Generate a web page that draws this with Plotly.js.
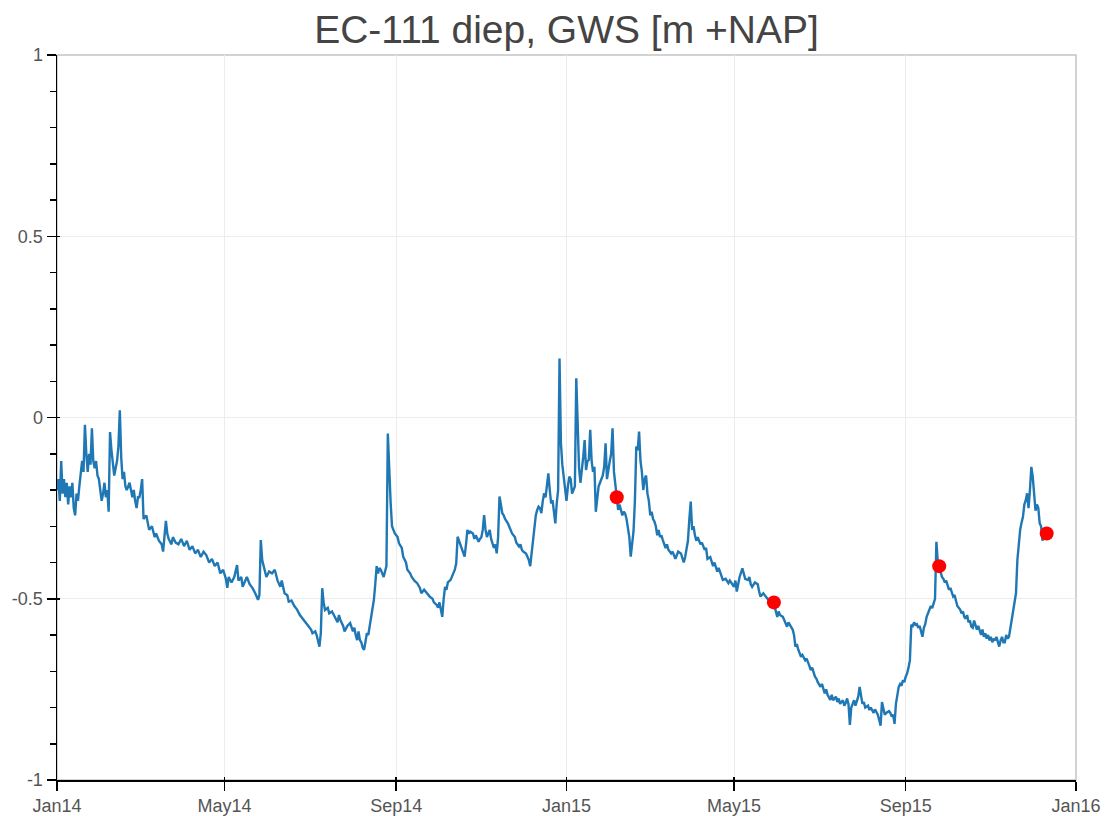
<!DOCTYPE html>
<html>
<head>
<meta charset="utf-8">
<script src="https://cdn.plot.ly/plotly-3.0.1.min.js"></script>
<style>
  html, body { margin: 0; padding: 0; background: #ffffff; }
  #chart { width: 1112px; height: 816px; }
</style>
</head>
<body>
<div id="chart"></div>
<script>
// Title and tick labels
const chartTitle = "EC-111 diep, GWS [m +NAP]";
const xTickVals = ["2014-01-01","2014-05-01","2014-09-01","2015-01-01","2015-05-01","2015-09-01","2016-01-01"];
const xTickText = ["Jan14","May14","Sep14","Jan15","May15","Sep15","Jan16"];
const yTickVals = [-1, -0.5, 0, 0.5, 1];
const yTickText = ["-1","-0.5","0","0.5","1"];

// Groundwater level series (m +NAP)
const dates = [
"2014-01-01","2014-01-02","2014-01-03","2014-01-04","2014-01-05","2014-01-06","2014-01-07","2014-01-08","2014-01-09","2014-01-10","2014-01-11","2014-01-12","2014-01-13","2014-01-14","2014-01-15","2014-01-16","2014-01-17","2014-01-18","2014-01-19","2014-01-20","2014-01-21","2014-01-22","2014-01-23","2014-01-24","2014-01-25","2014-01-26","2014-01-27","2014-01-28","2014-01-29","2014-01-30","2014-01-31",
"2014-02-01","2014-02-02","2014-02-03","2014-02-04","2014-02-05","2014-02-06","2014-02-07","2014-02-08","2014-02-09","2014-02-10","2014-02-11","2014-02-12","2014-02-13","2014-02-14","2014-02-15","2014-02-16","2014-02-17","2014-02-18","2014-02-19","2014-02-20","2014-02-22","2014-02-24","2014-02-25","2014-02-26","2014-02-27","2014-02-28",
"2014-03-01","2014-03-02","2014-03-03","2014-03-04","2014-03-06","2014-03-08","2014-03-10","2014-03-12","2014-03-13","2014-03-15","2014-03-17","2014-03-18","2014-03-19","2014-03-20","2014-03-21","2014-03-22","2014-03-24","2014-03-25","2014-03-27","2014-03-29","2014-03-31",
"2014-04-02","2014-04-04","2014-04-06","2014-04-08","2014-04-10","2014-04-12","2014-04-14","2014-04-16","2014-04-18","2014-04-20","2014-04-22","2014-04-24","2014-04-26","2014-04-28","2014-04-30",
"2014-05-02","2014-05-03","2014-05-04","2014-05-06","2014-05-08","2014-05-10","2014-05-11","2014-05-13","2014-05-14","2014-05-16","2014-05-17","2014-05-19","2014-05-21","2014-05-23","2014-05-25","2014-05-26","2014-05-27","2014-05-28","2014-05-29","2014-05-31",
"2014-06-02","2014-06-04","2014-06-06","2014-06-08","2014-06-10","2014-06-11","2014-06-13","2014-06-15","2014-06-16","2014-06-18","2014-06-20","2014-06-22","2014-06-24","2014-06-25","2014-06-27","2014-06-29","2014-06-30",
"2014-07-02","2014-07-03","2014-07-05","2014-07-06","2014-07-07","2014-07-08","2014-07-09","2014-07-10","2014-07-11","2014-07-12","2014-07-14","2014-07-15","2014-07-17","2014-07-19","2014-07-21","2014-07-22","2014-07-23","2014-07-25","2014-07-26","2014-07-28","2014-07-30",
"2014-08-01","2014-08-02","2014-08-03","2014-08-04","2014-08-05","2014-08-06","2014-08-07","2014-08-08","2014-08-09","2014-08-10","2014-08-11","2014-08-12","2014-08-13","2014-08-14","2014-08-15","2014-08-16","2014-08-17","2014-08-18","2014-08-19","2014-08-20","2014-08-21","2014-08-22","2014-08-23","2014-08-24","2014-08-25","2014-08-26","2014-08-27","2014-08-28","2014-08-29","2014-08-30","2014-08-31",
"2014-09-02","2014-09-03","2014-09-05","2014-09-06","2014-09-08","2014-09-09","2014-09-11","2014-09-12","2014-09-14","2014-09-16","2014-09-18","2014-09-19","2014-09-21","2014-09-22","2014-09-24","2014-09-25","2014-09-27","2014-09-28","2014-09-30",
"2014-10-01","2014-10-02","2014-10-03","2014-10-04","2014-10-05","2014-10-06","2014-10-07","2014-10-08","2014-10-10","2014-10-11","2014-10-12","2014-10-13","2014-10-14","2014-10-15","2014-10-16","2014-10-17","2014-10-18","2014-10-19","2014-10-20","2014-10-21","2014-10-22","2014-10-23","2014-10-24","2014-10-26","2014-10-27","2014-10-28","2014-10-30","2014-10-31",
"2014-11-01","2014-11-02","2014-11-03","2014-11-04","2014-11-05","2014-11-06","2014-11-07","2014-11-08","2014-11-09","2014-11-10","2014-11-11","2014-11-12","2014-11-13","2014-11-14","2014-11-15","2014-11-16","2014-11-17","2014-11-18","2014-11-20","2014-11-21","2014-11-22","2014-11-23","2014-11-25","2014-11-26","2014-11-28","2014-11-29","2014-11-30",
"2014-12-01","2014-12-03","2014-12-04","2014-12-05","2014-12-06","2014-12-07","2014-12-08","2014-12-09","2014-12-10","2014-12-11","2014-12-12","2014-12-13","2014-12-14","2014-12-15","2014-12-16","2014-12-17","2014-12-18","2014-12-19","2014-12-20","2014-12-21","2014-12-22","2014-12-23","2014-12-24","2014-12-25","2014-12-26","2014-12-27","2014-12-28","2014-12-29","2014-12-30","2014-12-31",
"2015-01-01","2015-01-02","2015-01-03","2015-01-04","2015-01-05","2015-01-06","2015-01-07","2015-01-08","2015-01-09","2015-01-10","2015-01-11","2015-01-12","2015-01-13","2015-01-14","2015-01-15","2015-01-16","2015-01-17","2015-01-18","2015-01-19","2015-01-20","2015-01-21","2015-01-22","2015-01-23","2015-01-24","2015-01-25","2015-01-26","2015-01-27","2015-01-28","2015-01-29","2015-01-30","2015-01-31",
"2015-02-01","2015-02-02","2015-02-03","2015-02-04","2015-02-05","2015-02-06","2015-02-07","2015-02-08","2015-02-09","2015-02-10","2015-02-11","2015-02-12","2015-02-13","2015-02-14","2015-02-15","2015-02-16","2015-02-17","2015-02-18","2015-02-19","2015-02-20","2015-02-21","2015-02-22","2015-02-23","2015-02-24","2015-02-25","2015-02-26","2015-02-27","2015-02-28",
"2015-03-01","2015-03-02","2015-03-03","2015-03-04","2015-03-05","2015-03-06","2015-03-07","2015-03-08","2015-03-09","2015-03-10","2015-03-11","2015-03-12","2015-03-13","2015-03-14","2015-03-15","2015-03-17","2015-03-18","2015-03-19","2015-03-20","2015-03-21","2015-03-22","2015-03-24","2015-03-25","2015-03-26","2015-03-27","2015-03-28","2015-03-29","2015-03-30","2015-03-31",
"2015-04-01","2015-04-02","2015-04-03","2015-04-04","2015-04-05","2015-04-07","2015-04-08","2015-04-10","2015-04-11","2015-04-12","2015-04-14","2015-04-16","2015-04-17","2015-04-19","2015-04-20","2015-04-22","2015-04-23","2015-04-25","2015-04-27","2015-04-28","2015-04-30",
"2015-05-01","2015-05-02","2015-05-03","2015-05-04","2015-05-05","2015-05-07","2015-05-08","2015-05-09","2015-05-11","2015-05-12","2015-05-13","2015-05-14","2015-05-16","2015-05-18","2015-05-19","2015-05-20","2015-05-22","2015-05-24","2015-05-25","2015-05-27","2015-05-29","2015-05-30","2015-05-31",
"2015-06-01","2015-06-02","2015-06-03","2015-06-05","2015-06-06","2015-06-08","2015-06-09","2015-06-11","2015-06-12","2015-06-13","2015-06-14","2015-06-15","2015-06-16","2015-06-18","2015-06-19","2015-06-21","2015-06-22","2015-06-24","2015-06-25","2015-06-26","2015-06-28","2015-06-29","2015-06-30",
"2015-07-02","2015-07-03","2015-07-05","2015-07-06","2015-07-07","2015-07-09","2015-07-10","2015-07-11","2015-07-13","2015-07-14","2015-07-15","2015-07-16","2015-07-18","2015-07-19","2015-07-20","2015-07-21","2015-07-22","2015-07-23","2015-07-24","2015-07-26","2015-07-27","2015-07-28","2015-07-29","2015-07-30","2015-07-31",
"2015-08-01","2015-08-02","2015-08-03","2015-08-05","2015-08-06","2015-08-07","2015-08-09","2015-08-10","2015-08-12","2015-08-13","2015-08-14","2015-08-15","2015-08-16","2015-08-17","2015-08-18","2015-08-20","2015-08-21","2015-08-22","2015-08-23","2015-08-24","2015-08-25","2015-08-26","2015-08-27","2015-08-28","2015-08-29","2015-08-30","2015-08-31",
"2015-09-01","2015-09-02","2015-09-03","2015-09-04","2015-09-05","2015-09-06","2015-09-07","2015-09-08","2015-09-09","2015-09-10","2015-09-11","2015-09-12","2015-09-13","2015-09-14","2015-09-15","2015-09-16","2015-09-17","2015-09-18","2015-09-19","2015-09-20","2015-09-21","2015-09-22","2015-09-23","2015-09-24","2015-09-25","2015-09-26","2015-09-27","2015-09-28","2015-09-29","2015-09-30",
"2015-10-01","2015-10-02","2015-10-03","2015-10-04","2015-10-05","2015-10-06","2015-10-07","2015-10-08","2015-10-10","2015-10-11","2015-10-12","2015-10-13","2015-10-14","2015-10-15","2015-10-16","2015-10-17","2015-10-18","2015-10-19","2015-10-20","2015-10-21","2015-10-22","2015-10-23","2015-10-24","2015-10-25","2015-10-26","2015-10-27","2015-10-28","2015-10-29","2015-10-30","2015-10-31",
"2015-11-01","2015-11-02","2015-11-03","2015-11-04","2015-11-05","2015-11-06","2015-11-07","2015-11-08","2015-11-09","2015-11-10","2015-11-11","2015-11-12","2015-11-13","2015-11-14","2015-11-15","2015-11-16","2015-11-17","2015-11-18","2015-11-19","2015-11-20","2015-11-21","2015-11-22","2015-11-23","2015-11-24","2015-11-25","2015-11-26","2015-11-27","2015-11-28","2015-11-29","2015-11-30",
"2015-12-01","2015-12-02","2015-12-03","2015-12-04","2015-12-05","2015-12-06","2015-12-07","2015-12-08","2015-12-09","2015-12-10","2015-12-11"
];
const gws = [
-0.20,-0.17,-0.23,-0.12,-0.21,-0.17,-0.22,-0.18,-0.24,-0.19,-0.22,-0.18,-0.25,-0.27,-0.21,-0.23,-0.19,-0.15,-0.12,-0.15,-0.02,-0.10,-0.15,-0.10,-0.13,-0.03,-0.12,-0.14,-0.12,-0.16,-0.17,
-0.20,-0.23,-0.21,-0.18,-0.22,-0.20,-0.26,-0.04,-0.09,-0.12,-0.16,-0.14,-0.12,-0.08,0.02,-0.11,-0.17,-0.15,-0.19,-0.20,-0.18,-0.22,-0.20,-0.23,-0.25,-0.22,
-0.22,-0.20,-0.17,-0.28,-0.27,-0.31,-0.30,-0.33,-0.32,-0.34,-0.35,-0.37,-0.33,-0.285,-0.32,-0.335,-0.35,-0.33,-0.345,-0.35,-0.335,
-0.355,-0.34,-0.365,-0.355,-0.375,-0.365,-0.385,-0.37,-0.38,-0.40,-0.39,-0.41,-0.40,-0.43,-0.42,
-0.445,-0.47,-0.44,-0.455,-0.44,-0.407,-0.45,-0.44,-0.467,-0.45,-0.44,-0.46,-0.47,-0.485,-0.503,-0.49,-0.338,-0.393,-0.41,-0.44,
-0.425,-0.43,-0.42,-0.45,-0.467,-0.45,-0.485,-0.49,-0.508,-0.505,-0.52,-0.53,-0.545,-0.55,-0.56,-0.57,-0.577,
-0.585,-0.595,-0.59,-0.60,-0.615,-0.632,-0.595,-0.471,-0.51,-0.531,-0.525,-0.54,-0.535,-0.55,-0.565,-0.545,-0.559,-0.575,-0.59,-0.575,-0.567,
-0.59,-0.58,-0.60,-0.614,-0.59,-0.614,-0.62,-0.635,-0.641,-0.62,-0.595,-0.60,-0.575,-0.559,-0.53,-0.503,-0.46,-0.41,-0.43,-0.415,-0.42,-0.43,-0.44,-0.425,-0.41,-0.044,-0.163,-0.234,-0.30,-0.31,-0.32,
-0.33,-0.347,-0.36,-0.384,-0.40,-0.42,-0.43,-0.439,-0.45,-0.457,-0.47,-0.485,-0.475,-0.48,-0.49,-0.494,-0.50,-0.51,-0.517,
-0.525,-0.51,-0.53,-0.55,-0.50,-0.467,-0.475,-0.455,-0.448,-0.44,-0.43,-0.42,-0.402,-0.329,-0.34,-0.35,-0.36,-0.37,-0.384,-0.35,-0.31,-0.32,-0.315,-0.32,-0.335,-0.325,-0.343,-0.335,
-0.33,-0.31,-0.269,-0.31,-0.33,-0.32,-0.31,-0.335,-0.345,-0.36,-0.35,-0.375,-0.33,-0.218,-0.24,-0.264,-0.27,-0.28,-0.292,-0.30,-0.31,-0.32,-0.33,-0.345,-0.356,-0.35,-0.365,
-0.37,-0.375,-0.385,-0.393,-0.41,-0.37,-0.33,-0.292,-0.27,-0.255,-0.246,-0.25,-0.264,-0.23,-0.209,-0.22,-0.18,-0.154,-0.20,-0.237,-0.228,-0.26,-0.292,-0.237,-0.20,0.163,-0.071,-0.13,-0.17,-0.20,
-0.23,-0.19,-0.163,-0.17,-0.21,-0.20,-0.19,0.108,-0.016,-0.14,-0.18,-0.15,-0.108,-0.062,-0.145,-0.12,-0.117,-0.034,-0.12,-0.15,-0.136,-0.26,-0.22,-0.19,-0.18,-0.17,-0.16,-0.136,-0.071,-0.17,-0.14,
-0.12,-0.10,-0.03,-0.15,-0.19,-0.218,-0.255,-0.24,-0.26,-0.27,-0.26,-0.265,-0.28,-0.30,-0.33,-0.384,-0.35,-0.315,-0.23,-0.08,-0.09,-0.039,-0.12,-0.15,-0.20,-0.17,-0.16,-0.21,
-0.23,-0.27,-0.26,-0.28,-0.287,-0.30,-0.325,-0.31,-0.33,-0.325,-0.338,-0.35,-0.36,-0.35,-0.365,-0.375,-0.37,-0.38,-0.39,-0.38,-0.37,-0.375,-0.39,-0.40,-0.385,-0.36,-0.34,-0.28,-0.232,
-0.31,-0.30,-0.325,-0.34,-0.33,-0.35,-0.345,-0.365,-0.36,-0.39,-0.385,-0.41,-0.40,-0.425,-0.415,-0.435,-0.448,-0.445,-0.457,-0.45,-0.464,
-0.467,-0.45,-0.48,-0.46,-0.44,-0.416,-0.43,-0.445,-0.448,-0.44,-0.46,-0.467,-0.455,-0.46,-0.48,-0.494,-0.485,-0.494,-0.50,-0.505,-0.508,-0.52,-0.535,
-0.55,-0.535,-0.545,-0.55,-0.56,-0.577,-0.565,-0.58,-0.585,-0.60,-0.632,-0.625,-0.64,-0.66,-0.655,-0.67,-0.665,-0.685,-0.697,-0.69,-0.715,-0.72,-0.73,
-0.743,-0.735,-0.761,-0.75,-0.765,-0.779,-0.765,-0.78,-0.77,-0.785,-0.775,-0.79,-0.78,-0.795,-0.788,-0.775,-0.79,-0.848,-0.80,-0.78,-0.795,-0.785,-0.77,-0.743,-0.775,
-0.79,-0.785,-0.80,-0.795,-0.807,-0.80,-0.815,-0.805,-0.82,-0.834,-0.85,-0.785,-0.80,-0.82,-0.815,-0.81,-0.815,-0.825,-0.82,-0.845,-0.79,-0.765,-0.743,-0.735,-0.74,-0.725,-0.73,
-0.715,-0.706,-0.69,-0.67,-0.572,-0.575,-0.565,-0.572,-0.57,-0.58,-0.575,-0.59,-0.605,-0.58,-0.57,-0.55,-0.54,-0.535,-0.52,-0.526,-0.51,-0.50,-0.343,-0.40,-0.41,-0.43,-0.44,-0.445,-0.455,-0.45,
-0.46,-0.475,-0.47,-0.485,-0.494,-0.49,-0.51,-0.52,-0.53,-0.54,-0.535,-0.55,-0.555,-0.545,-0.565,-0.56,-0.577,-0.58,-0.56,-0.57,-0.585,-0.575,-0.59,-0.60,-0.585,-0.605,-0.595,-0.61,-0.60,-0.615,
-0.605,-0.62,-0.61,-0.615,-0.605,-0.62,-0.632,-0.615,-0.605,-0.62,-0.62,-0.60,-0.61,-0.605,-0.58,-0.55,-0.53,-0.51,-0.485,-0.393,-0.35,-0.31,-0.29,-0.274,-0.24,-0.228,-0.209,-0.25,-0.20,-0.136,
-0.163,-0.21,-0.257,-0.24,-0.25,-0.292,-0.30,-0.34,-0.31,-0.318,-0.33
];

// Manual measurements (red dots)
const pointDates = ["2015-02-06","2015-05-29 14:00","2015-09-25","2015-12-11"];
const pointValues = [-0.22, -0.51, -0.41, -0.32];

const font = 'Liberation Sans, Arial, Helvetica, sans-serif';
const xRange = ["2014-01-01","2016-01-01"];
const yRange = [-1, 1];

const traces = [
  {
    type: 'scatter', mode: 'lines',
    x: dates, y: gws,
    line: {color: '#1f77b4', width: 2.4},
    hoverinfo: 'x+y', showlegend: false,
    xaxis: 'x', yaxis: 'y'
  },
  {
    type: 'scatter', mode: 'markers',
    x: pointDates, y: pointValues,
    marker: {color: '#ff0000', size: 14, line: {width: 0}},
    hoverinfo: 'x+y', showlegend: false,
    xaxis: 'x2', yaxis: 'y2'
  }
];

const layout = {
  width: 1112, height: 816,
  margin: {l: 57, r: 36, t: 55, b: 36, pad: 0},
  paper_bgcolor: '#ffffff', plot_bgcolor: '#ffffff',
  showlegend: false,
  title: {
    text: chartTitle,
    font: {family: font, size: 39, color: '#444444'},
    x: 566.5/1112, xref: 'container', xanchor: 'center',
    y: 1 - 29/816, yref: 'container', yanchor: 'middle'
  },
  xaxis: {
    type: 'date', range: xRange,
    tickvals: xTickVals, ticktext: xTickText,
    tickfont: {family: font, size: 18, color: '#555555'},
    ticks: 'outside', ticklen: 9, tickwidth: 1.5, tickcolor: '#000000',
    showline: true, linecolor: '#000000', linewidth: 1.5,
    showgrid: true, gridcolor: '#ececec', gridwidth: 1,
    zeroline: false, fixedrange: true
  },
  yaxis: {
    range: yRange,
    tickvals: yTickVals, ticktext: yTickText,
    tickfont: {family: font, size: 18, color: '#555555'},
    ticks: 'outside', ticklen: 9, tickwidth: 1.5, tickcolor: '#000000',
    minor: {dtick: 0.1, tick0: 0, ticks: 'outside', ticklen: 6, tickwidth: 1.5, tickcolor: '#000000', showgrid: false},
    showline: true, linecolor: '#000000', linewidth: 1.5,
    showgrid: true, gridcolor: '#ececec', gridwidth: 1,
    zeroline: false, fixedrange: true
  },
  xaxis2: {
    type: 'date', range: xRange, overlaying: 'x', anchor: 'y',
    tickvals: xTickVals, showticklabels: false,
    ticks: 'inside', ticklen: 3, tickwidth: 1.5, tickcolor: '#000000',
    showline: false, showgrid: false, zeroline: false, fixedrange: true
  },
  yaxis2: {
    range: yRange, overlaying: 'y', anchor: 'x',
    tickvals: yTickVals, showticklabels: false,
    ticks: 'inside', ticklen: 3, tickwidth: 1.5, tickcolor: '#000000',
    showline: false, showgrid: false, zeroline: false, fixedrange: true
  },
  shapes: [{
    type: 'rect', xref: 'paper', yref: 'paper', x0: 0, x1: 1, y0: 0, y1: 1,
    line: {color: '#c4c4c4', width: 1.5}, fillcolor: 'rgba(0,0,0,0)', layer: 'below'
  }]
};

Plotly.newPlot('chart', traces, layout, {displayModeBar: false, staticPlot: true});
</script>
</body>
</html>
